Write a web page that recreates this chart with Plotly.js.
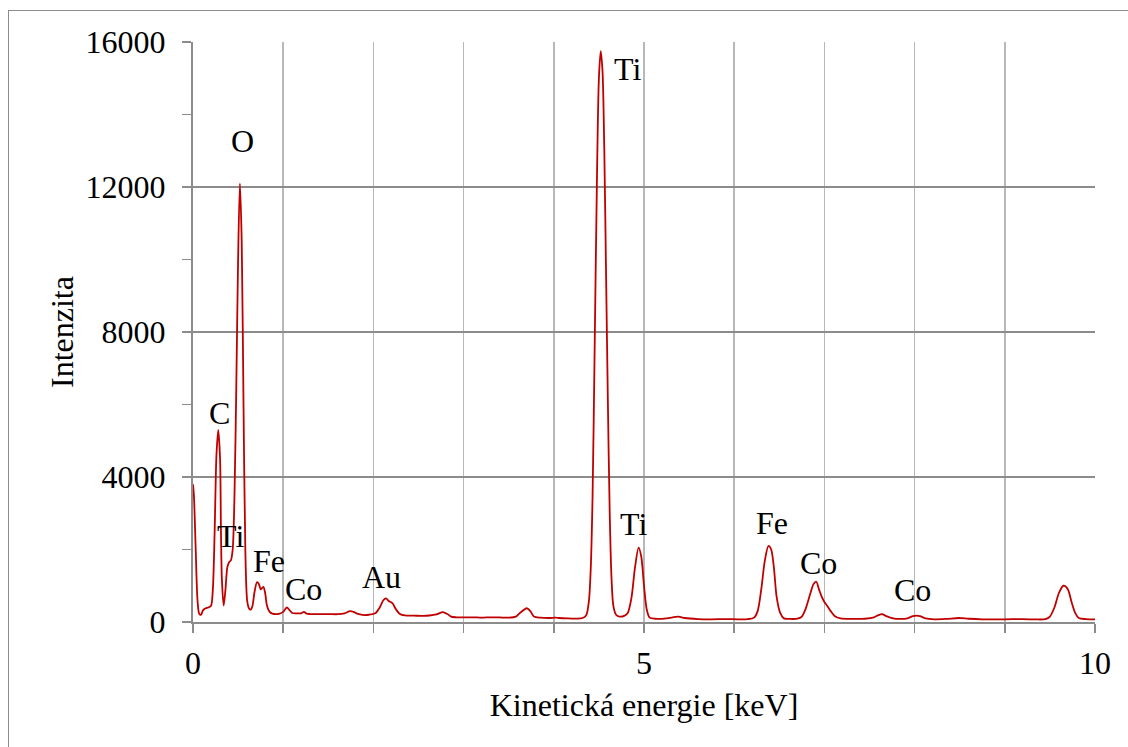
<!DOCTYPE html>
<html>
<head>
<meta charset="utf-8">
<script src="https://cdn.plot.ly/plotly-3.0.1.min.js"></script>
<style>
  html, body { margin: 0; padding: 0; background: #ffffff; overflow: hidden; }
  #frame { position: absolute; left: 8px; top: 10px; width: 1300px; height: 900px;
           border-left: 1.5px solid #8c8c8c; border-top: 1.5px solid #8c8c8c; }
  #chart { position: absolute; left: 0; top: 0; width: 1128px; height: 747px; }
</style>
</head>
<body>
<div id="frame"></div>
<div id="chart"></div>
<script>
// Energy [keV] and intensity
const energy = [
  0.00, 0.01, 0.03, 0.05, 0.07, 0.09, 0.11, 0.14, 0.17, 0.20,
  0.22, 0.24, 0.26, 0.28, 0.30, 0.31, 0.32, 0.34, 0.36, 0.38,
  0.40, 0.42, 0.44, 0.46, 0.48, 0.50, 0.52, 0.54, 0.56, 0.58,
  0.60, 0.62, 0.64, 0.66, 0.68, 0.71, 0.73, 0.75, 0.76, 0.78,
  0.80, 0.82, 0.85, 0.88, 0.92, 0.96, 1.00, 1.04, 1.07, 1.10,
  1.15, 1.20, 1.23, 1.26, 1.30, 1.40, 1.50, 1.60, 1.68, 1.74,
  1.78, 1.82, 1.88, 1.95, 2.02, 2.07, 2.11, 2.14, 2.17, 2.21,
  2.25, 2.29, 2.35, 2.45, 2.55, 2.62, 2.70, 2.77, 2.82, 2.86,
  2.92, 3.00, 3.10, 3.20, 3.30, 3.40, 3.50, 3.58, 3.63, 3.70,
  3.74, 3.78, 3.85, 3.95, 4.02, 4.06, 4.15, 4.25, 4.32, 4.36,
  4.39, 4.41, 4.43, 4.45, 4.48, 4.50, 4.52, 4.54, 4.56, 4.58,
  4.60, 4.62, 4.64, 4.66, 4.69, 4.73, 4.78, 4.82, 4.86, 4.90,
  4.94, 4.97, 5.00, 5.03, 5.06, 5.12, 5.25, 5.38, 5.45, 5.60,
  5.75, 5.90, 6.05, 6.15, 6.22, 6.26, 6.30, 6.34, 6.38, 6.41,
  6.44, 6.47, 6.51, 6.55, 6.62, 6.70, 6.75, 6.79, 6.84, 6.88,
  6.91, 6.94, 6.97, 7.00, 7.03, 7.07, 7.12, 7.18, 7.30, 7.45,
  7.55, 7.60, 7.64, 7.68, 7.75, 7.84, 7.92, 7.98, 8.02, 8.06,
  8.12, 8.22, 8.35, 8.49, 8.60, 8.75, 9.00, 9.20, 9.35, 9.45,
  9.50, 9.55, 9.60, 9.65, 9.70, 9.74, 9.78, 9.82, 9.90, 10.00
];
const intensity = [
  3800, 3500, 2000, 600, 220, 200, 320, 380, 400, 450,
  900, 2500, 4600, 5300, 4500, 2500, 1200, 450, 900, 1500,
  1650, 1700, 2000, 3500, 6500, 10000, 12100, 10500, 6000, 2000,
  600, 380, 340, 450, 800, 1100, 1050, 900, 920, 970,
  800, 450, 280, 230, 215, 230, 280, 400, 330, 250,
  240, 240, 280, 230, 220, 215, 220, 215, 240, 300,
  280, 230, 195, 200, 240, 400, 600, 650, 580, 520,
  350, 230, 180, 175, 170, 180, 210, 270, 220, 150,
  130, 125, 130, 120, 130, 125, 120, 150, 260, 380,
  300, 150, 120, 110, 120, 110, 100, 95, 110, 190,
  600, 1500, 3500, 7000, 12500, 15000, 15750, 15200, 13000, 9500,
  6000, 3000, 1200, 450, 200, 150, 170, 250, 650, 1500,
  2050, 1800, 1000, 350, 130, 90, 100, 150, 110, 80,
  75, 80, 75, 80, 120, 300, 900, 1700, 2100, 2000,
  1500, 700, 250, 100, 85, 90, 150, 350, 750, 1050,
  1110, 900, 700, 550, 450, 300, 150, 100, 85, 90,
  130, 190, 215, 170, 110, 85, 100, 160, 175, 160,
  100, 75, 85, 110, 90, 75, 75, 80, 70, 80,
  150, 400, 800, 1000, 900, 550, 250, 110, 80, 70
];

// Peak labels
const peakLabels = ["O", "Ti", "C", "Ti", "Fe", "Co", "Au", "Ti", "Fe", "Co", "Co"];
const peakLabelX = [0.549, 4.812, 0.294, 0.421, 0.837, 1.220, 2.095, 4.889, 6.419, 6.940, 7.982];
const peakLabelY = [13269, 15255, 5752, 2372, 1683, 910, 1241, 2703, 2731, 1628, 883];

// Axis ticks
const xTickVals = [0, 1, 2, 3, 4, 5, 6, 7, 8, 9, 10];
const xTickText = ["0", "", "", "", "", "5", "", "", "", "", "10"];
const yTickVals = [0, 4000, 8000, 12000, 16000];
const yTickText = ["0", "4000", "8000", "12000", "16000"];

const FONT = "Liberation Serif, Times New Roman, serif";
const FS = 32;

const trace = {
  x: energy,
  y: intensity,
  type: "scatter",
  mode: "lines",
  line: { color: "#c00000", width: 1.8, shape: "spline", smoothing: 0.8 },
  hoverinfo: "x+y"
};

const annotations = peakLabels.map((t, i) => ({
  x: peakLabelX[i], y: peakLabelY[i], xref: "x", yref: "y",
  text: t, showarrow: false, xanchor: "center", yanchor: "middle",
  font: { family: FONT, size: FS, color: "#000000" }
}));

const layout = {
  width: 1128, height: 747,
  margin: { l: 193, r: 33, t: 42, b: 125, pad: 0 },
  paper_bgcolor: "rgba(0,0,0,0)",
  plot_bgcolor: "#ffffff",
  showlegend: false,
  font: { family: FONT, size: FS, color: "#000000" },
  xaxis: {
    range: [0, 10],
    tickmode: "array", tickvals: xTickVals, ticktext: xTickText,
    ticks: "outside", ticklen: 9, tickwidth: 1.5, tickcolor: "#8c8c8c",
    showline: true, linecolor: "#8c8c8c", linewidth: 2,
    showgrid: true, gridcolor: "#b8b8b8", gridwidth: 1.5,
    zeroline: false,
    tickfont: { family: FONT, size: FS, color: "#000000" },
    ticklabelstandoff: 3,
    title: { text: "Kinetická energie [keV]", font: { family: FONT, size: FS, color: "#000000" }, standoff: 13 },
    fixedrange: true
  },
  yaxis: {
    range: [0, 16000],
    tickmode: "array", tickvals: yTickVals, ticktext: yTickText,
    ticks: "outside", ticklen: 9, tickwidth: 1.5, tickcolor: "#8c8c8c",
    minor: { dtick: 2000, tick0: 0, ticks: "outside", ticklen: 9, tickwidth: 1.5, tickcolor: "#8c8c8c", showgrid: false },
    showline: true, linecolor: "#8c8c8c", linewidth: 2,
    showgrid: true, gridcolor: "#8c8c8c", gridwidth: 1.5,
    zeroline: false,
    tickfont: { family: FONT, size: FS, color: "#000000" },
    ticklabelstandoff: 10,
    title: { text: "Intenzita", font: { family: FONT, size: FS, color: "#000000" }, standoff: 2 },
    fixedrange: true
  },
  annotations: annotations
};

Plotly.newPlot("chart", [trace], layout, { displayModeBar: false, staticPlot: true });
</script>
</body>
</html>
